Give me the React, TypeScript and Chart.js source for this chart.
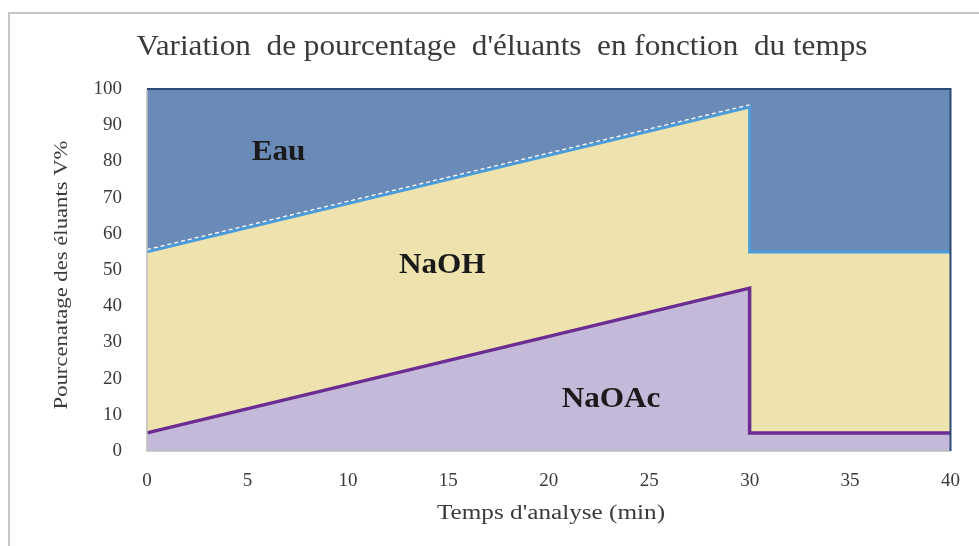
import React, { useEffect, useRef } from 'react';
import { Chart, registerables } from 'chart.js';
Chart.register(...registerables);

const chartTitle = "Variation  de pourcentage  d'éluants  en fonction  du temps";
const xAxisTitle = "Temps d'analyse (min)";
const yAxisTitle = "Pourcenatage des éluants V%";

const timeNaOAc = [0, 30, 30, 40];
const valNaOAc = [5, 45, 5, 5];
const timeNaOH = [0, 30, 30, 40];
const valNaOH = [55, 95, 55, 55];
const timeEau = [0, 40];
const valEau = [100, 100];

const seriesNames = ['NaOAc', 'NaOH', 'Eau'];
const labelTexts = ['Eau', 'NaOH', 'NaOAc'];
const labelTimes = [6.55, 14.7, 23.1];
const labelValues = [82.6, 51.4, 14.2];

const SERIF = '"Liberation Serif", "Times New Roman", serif';

function pts(xs: number[], ys: number[]) {
  return xs.map((x, i) => ({ x, y: ys[i] }));
}

function stretchedText(ctx: CanvasRenderingContext2D, text: string, x: number, y: number, sx: number, rot: number) {
  ctx.save();
  ctx.translate(x, y);
  ctx.rotate(rot);
  ctx.scale(sx, 1);
  ctx.fillText(text, 0, 0);
  ctx.restore();
}

const decorPlugin = {
  id: 'decor',
  beforeDraw(chart: any) {
    const ctx = chart.ctx;
    ctx.save();
    ctx.fillStyle = '#ffffff';
    ctx.fillRect(0, 0, chart.width, chart.height);
    ctx.strokeStyle = '#c6c6c6';
    ctx.lineWidth = 2;
    ctx.beginPath();
    ctx.moveTo(9, chart.height);
    ctx.lineTo(9, 13);
    ctx.lineTo(chart.width, 13);
    ctx.stroke();
    ctx.fillStyle = '#3a3a3a';
    ctx.textAlign = 'center';
    ctx.textBaseline = 'middle';
    ctx.font = `30px ${SERIF}`;
    stretchedText(ctx, chartTitle, 502, 47, 1.04, 0);
    ctx.font = `20px ${SERIF}`;
    stretchedText(ctx, xAxisTitle, 551, 514, 1.26, 0);
    ctx.font = `18px ${SERIF}`;
    stretchedText(ctx, yAxisTitle, 62, 275, 1.26, -Math.PI / 2);
    ctx.restore();
  },
  afterDatasetsDraw(chart: any) {
    const ctx = chart.ctx;
    const { left, right, top, bottom } = chart.chartArea;
    ctx.save();
    const meta = chart.getDatasetMeta(1);
    const p0 = meta.data[0];
    const p1 = meta.data[1];
    ctx.strokeStyle = '#ffffff';
    ctx.lineWidth = 1.3;
    ctx.setLineDash([4, 3]);
    ctx.beginPath();
    ctx.moveTo(p0.x, p0.y - 2.3);
    ctx.lineTo(p1.x, p1.y - 2.3);
    ctx.stroke();
    ctx.setLineDash([]);
    ctx.strokeStyle = '#bdbdbd';
    ctx.lineWidth = 1.5;
    ctx.beginPath();
    ctx.moveTo(left, top);
    ctx.lineTo(left, bottom);
    ctx.lineTo(right, bottom);
    ctx.stroke();
    ctx.strokeStyle = '#2b4c74';
    ctx.lineWidth = 2;
    ctx.beginPath();
    ctx.moveTo(left, top);
    ctx.lineTo(right, top);
    ctx.lineTo(right, bottom);
    ctx.stroke();
    const xs = chart.scales.x;
    const ys = chart.scales.y;
    ctx.fillStyle = '#1a1a1a';
    ctx.font = `bold 30px ${SERIF}`;
    ctx.textAlign = 'center';
    ctx.textBaseline = 'middle';
    labelTexts.forEach((t, i) => {
      stretchedText(ctx, t, xs.getPixelForValue(labelTimes[i]), ys.getPixelForValue(labelValues[i]), 1.04, 0);
    });
    ctx.restore();
  },
};

export default function App() {
  const ref = useRef<HTMLCanvasElement>(null);
  useEffect(() => {
    document.body.style.margin = '0';
    const chart = new Chart(ref.current!, {
      type: 'line',
      data: {
        datasets: [
          {
            label: seriesNames[0],
            data: pts(timeNaOAc, valNaOAc),
            borderColor: '#6b2d92',
            backgroundColor: '#c5b9da',
            borderWidth: 3.5,
            fill: 'origin',
            pointRadius: 0,
            tension: 0,
            clip: 6,
          },
          {
            label: seriesNames[1],
            data: pts(timeNaOH, valNaOH),
            borderColor: '#4b9cdb',
            backgroundColor: '#eee3ae',
            borderWidth: 3,
            fill: 'origin',
            pointRadius: 0,
            tension: 0,
            clip: 6,
          },
          {
            label: seriesNames[2],
            data: pts(timeEau, valEau),
            borderColor: '#2b4c74',
            backgroundColor: '#6a8bb8',
            borderWidth: 2,
            fill: 'origin',
            pointRadius: 0,
            tension: 0,
            clip: 6,
          },
        ],
      },
      options: {
        responsive: false,
        animation: false,
        layout: { padding: { top: 89, left: 0, right: 27, bottom: 0 } },
        plugins: { legend: { display: false }, tooltip: { enabled: false }, title: { display: false } },
        scales: {
          x: {
            type: 'linear',
            min: 0,
            max: 40,
            grid: { display: false, drawTicks: false },
            border: { display: false },
            ticks: { stepSize: 5, padding: 19, color: '#3a3a3a', font: { family: SERIF, size: 19 } },
            afterFit: (s: any) => { s.height = 95; },
          },
          y: {
            min: 0,
            max: 100,
            grid: { display: false, drawTicks: false },
            border: { display: false },
            ticks: { stepSize: 10, padding: 25, color: '#3a3a3a', font: { family: SERIF, size: 19 } },
            afterFit: (s: any) => { s.width = 147; },
          },
        },
      },
      plugins: [decorPlugin],
    });
    return () => chart.destroy();
  }, []);
  return <canvas ref={ref} width={979} height={546} style={{ display: 'block', width: 979, height: 546 }} />;
}
